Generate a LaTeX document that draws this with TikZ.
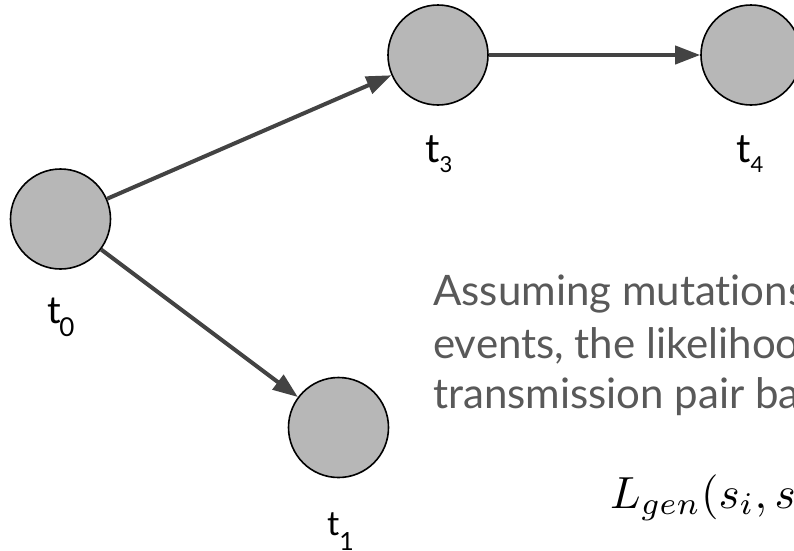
\documentclass[tikz,border=0pt]{standalone}
\usepackage{fontspec}
\setmainfont{Lato}[Ligatures={NoCommon,NoRequired,NoContextual,NoDiscretionary}]
\usetikzlibrary{arrows.meta}
\definecolor{nodefill}{HTML}{B7B7B7}
\definecolor{edgegray}{HTML}{434343}
\definecolor{txtgray}{HTML}{595959}
\newcommand{\tlab}[5]{{\fontsize{#1}{#1}\selectfont t}\kern#4\raisebox{-#5}{\fontsize{#2}{#2}\selectfont #3}}
\begin{document}
\begin{tikzpicture}[x=1pt,y=-1pt,
  event/.style={circle,draw=black,line width=1.6pt,fill=nodefill,minimum size=100pt,inner sep=0pt},
  link/.style={draw=edgegray,line width=4pt,-{Triangle[length=25pt,width=18pt]}},
  lab/.style={anchor=base west,inner sep=0pt,text=black},
  body/.style={anchor=base west,inner sep=0pt,text=txtgray,font=\fontsize{42}{42}\selectfont}
  ]
\useasboundingbox (0,0) rectangle (794,550);
\clip (0,0) rectangle (794,550);
\fill[white] (0,0) rectangle (794,550);

\node[event] (t0) at (60.5,219) {};
\node[event] (t3) at (438,55) {};
\node[event] (t4) at (751,55) {};
\node[event] (t1) at (338.5,427.5) {};

\draw[link] (t0) -- (t3);
\draw[link] (t3) -- (t4);
\draw[link] (t0) -- (t1);

\node[lab] (l0) at (47,323) {\tlab{38}{26}{0}{-1.5pt}{13pt}};
\node[lab] (l3) at (425,162) {\tlab{40}{22}{3}{0pt}{10pt}};
\node[lab] (l4) at (736,162) {\tlab{40}{22}{4}{0pt}{10pt}};
\node[lab] (l1) at (327,535) {\tlab{34}{25}{1}{0pt}{15pt}};

\node[body] (line1) at (433,305) {Assuming mutations are};
\node[body] (line2) at (433,358) {events, the likelihood of};
\node[body] (line3) at (433,408) {transmission pair based};

\node[anchor=base west,inner sep=0pt] (formula) at (610,508) {\scalebox{4.5}{$L_{gen}(s_i, s_j)$}};
\end{tikzpicture}
\end{document}
